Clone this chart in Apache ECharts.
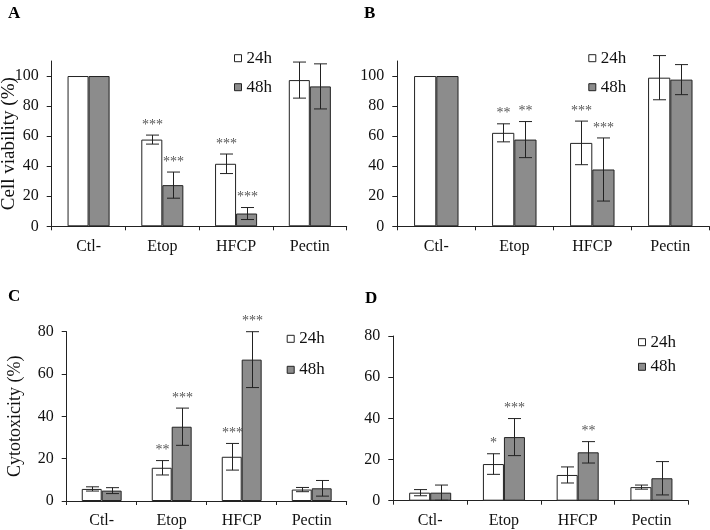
<!DOCTYPE html>
<html><head><meta charset="utf-8">
<script src="https://cdn.jsdelivr.net/npm/echarts@6/dist/echarts.min.js"></script>
<style>html,body{margin:0;padding:0;background:#fff}#c{width:710px;height:530px}</style>
</head><body><div id="c"></div>
<script>
const categories = ['Ctl-', 'Etop', 'HFCP', 'Pectin'];
const seriesNames = ['24h', '48h'];

// Panel A: Cell viability (%)
const A24 = [100, 57.7, 41.6, 97.3];
const A24err = [0, 3, 6.5, 12];
const A24sig = ['', '***', '***', ''];
const A48 = [100, 27.4, 8.5, 93.1];
const A48err = [0, 8.7, 4, 15];
const A48sig = ['', '***', '***', ''];

// Panel B
const B24 = [100, 62.2, 55.5, 98.9];
const B24err = [0, 6, 14.5, 14.7];
const B24sig = ['', '**', '***', ''];
const B48 = [100, 57.7, 37.8, 97.6];
const B48err = [0, 12, 21, 10];
const B48sig = ['', '**', '***', ''];

// Panel C: Cytotoxicity (%)
const C24 = [5.7, 15.7, 20.9, 5.4];
const C24err = [1, 3.4, 6.3, 1];
const C24sig = ['', '**', '***', ''];
const C48 = [4.9, 35.1, 66.8, 6.0];
const C48err = [1.4, 8.8, 13.2, 3.7];
const C48sig = ['', '***', '***', ''];

// Panel D
const D24 = [3.9, 17.8, 12.5, 6.6];
const D24err = [1.5, 5, 3.9, 1];
const D24sig = ['', '*', '', ''];
const D48 = [3.9, 30.9, 23.5, 10.9];
const D48err = [3.7, 9, 5.2, 8.1];
const D48sig = ['', '***', '**', ''];

const ticksViability = [0, 20, 40, 60, 80, 100];
const ticksCyto = [0, 20, 40, 60, 80];

const FONT = "'Liberation Serif', 'Times New Roman', serif";
const GAP = 0.43;
const INK = '#222';

const panels = [
  { label: 'A', v24: A24, e24: A24err, s24: A24sig, v48: A48, e48: A48err, s48: A48sig,
    grid: { left: 51.7, top: 61, width: 295, height: 165.3 }, max: 110, ticks: ticksViability,
    name: 'Cell viability (%)', nameSize: 19, nameGap: 33,
    legend: { left: 229, top: 44.7, itemGap: 12 }, title: { left: 3, top: 0 } },
  { label: 'B', v24: B24, e24: B24err, s24: B24sig, v48: B48, e48: B48err, s48: B48sig,
    grid: { left: 397.3, top: 61, width: 312, height: 165.3 }, max: 110, ticks: ticksViability,
    name: '', nameSize: 19, nameGap: 33,
    legend: { left: 583.3, top: 44.7, itemGap: 12 }, title: { left: 359, top: 0 } },
  { label: 'C', v24: C24, e24: C24err, s24: C24sig, v48: C48, e48: C48err, s48: C48sig,
    grid: { left: 66.7, top: 331.7, width: 280, height: 169.3 }, max: 80, ticks: ticksCyto,
    name: 'Cytotoxicity (%)', nameSize: 18, nameGap: 42,
    legend: { left: 281.7, top: 325.3, itemGap: 14 }, title: { left: 3, top: 283 } },
  { label: 'D', v24: D24, e24: D24err, s24: D24sig, v48: D48, e48: D48err, s48: D48sig,
    grid: { left: 393.3, top: 336, width: 295, height: 164.7 }, max: 80, ticks: ticksCyto,
    name: '', nameSize: 18, nameGap: 42,
    legend: { left: 633, top: 328.7, itemGap: 7.6 }, title: { left: 360, top: 285 } }
];

function makeErr(sigs, side) {
  return function (params, api) {
    const i = params.dataIndex;
    const ci = api.value(0), v = api.value(1), e = api.value(2);
    const bw = api.size([1, 0])[0];
    const off = side * bw * (1 - GAP) / 4;
    const x = Math.round(api.coord([ci, v])[0] + off) + 0.5;
    const children = [];
    const topY = api.coord([ci, v + e])[1];
    if (e > 0) {
      const botY = api.coord([ci, v - e])[1];
      const cap = 6.5;
      const st = { stroke: INK, lineWidth: 1 };
      children.push({ type: 'line', shape: { x1: x, y1: topY, x2: x, y2: botY }, style: st });
      children.push({ type: 'line', shape: { x1: x - cap, y1: topY, x2: x + cap, y2: topY }, style: st });
      children.push({ type: 'line', shape: { x1: x - cap, y1: botY, x2: x + cap, y2: botY }, style: st });
    }
    if (sigs[i]) {
      children.push({ type: 'text', x: x, y: topY - 10,
        style: { text: sigs[i], fill: '#555', font: '14px ' + FONT, align: 'center', verticalAlign: 'middle' } });
    }
    return { type: 'group', children: children };
  };
}

const option = {
  animation: false,
  backgroundColor: '#fff',
  title: [], grid: [], xAxis: [], yAxis: [], legend: [], series: []
};

panels.forEach((p, k) => {
  option.title.push({ text: p.label, left: p.title.left, top: p.title.top,
    textStyle: { fontFamily: FONT, fontWeight: 'bold', fontSize: 17, color: '#000' } });
  option.grid.push(Object.assign({ containLabel: false, outerBoundsMode: 'none' }, p.grid));
  option.xAxis.push({ type: 'category', gridIndex: k, data: categories,
    axisLine: { lineStyle: { color: INK, width: 1 } },
    axisTick: { show: true, length: 4, lineStyle: { color: INK } },
    axisLabel: { fontFamily: FONT, fontSize: 16, color: '#111', margin: 12 } });
  option.yAxis.push({ type: 'value', gridIndex: k, min: 0, max: p.max, interval: 20,
    name: p.name, nameLocation: 'middle', nameGap: p.nameGap, nameMoveOverlap: false,
    nameTextStyle: { fontFamily: FONT, fontSize: p.nameSize, color: '#111' },
    splitLine: { show: false },
    axisLine: { show: true, lineStyle: { color: INK, width: 1 } },
    axisTick: { show: true, length: 5, customValues: p.ticks, lineStyle: { color: INK } },
    axisLabel: { fontFamily: FONT, fontSize: 16, color: '#111', margin: 13, customValues: p.ticks } });
  option.legend.push({ orient: 'vertical', left: p.legend.left, top: p.legend.top, itemGap: p.legend.itemGap,
    itemWidth: 7, itemHeight: 7, icon: 'rect',
    textStyle: { fontFamily: FONT, fontSize: 17, color: '#111', lineHeight: 16 },
    data: [
      { name: '24h', itemStyle: { color: '#fff', borderColor: INK, borderWidth: 1 } },
      { name: '48h', itemStyle: { color: '#8c8c8c', borderColor: INK, borderWidth: 1 } }
    ], selectedMode: false });
  const barCommon = { type: 'bar', xAxisIndex: k, yAxisIndex: k, barGap: '0%', barCategoryGap: (GAP * 100) + '%' };
  option.series.push(Object.assign({}, barCommon, { name: '24h', data: p.v24,
    itemStyle: { color: '#fff', borderColor: INK, borderWidth: 1 } }));
  option.series.push(Object.assign({}, barCommon, { name: '48h', data: p.v48,
    itemStyle: { color: '#8c8c8c', borderColor: INK, borderWidth: 1 } }));
  option.series.push({ type: 'custom', name: 'err24-' + k, xAxisIndex: k, yAxisIndex: k, clip: false, z: 5,
    data: categories.map((c, i) => [i, p.v24[i], p.e24[i]]),
    encode: { x: 0, y: 1 }, renderItem: makeErr(p.s24, -1) });
  option.series.push({ type: 'custom', name: 'err48-' + k, xAxisIndex: k, yAxisIndex: k, clip: false, z: 5,
    data: categories.map((c, i) => [i, p.v48[i], p.e48[i]]),
    encode: { x: 0, y: 1 }, renderItem: makeErr(p.s48, 1) });
});

const chart = echarts.init(document.getElementById('c'));
chart.setOption(option);
</script>
</body></html>
